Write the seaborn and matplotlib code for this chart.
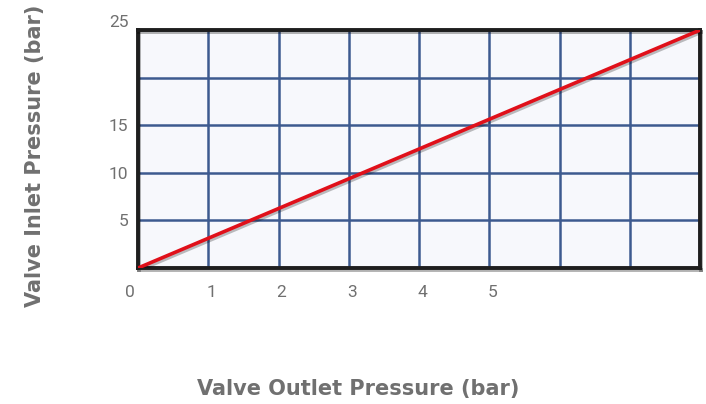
import seaborn as sns
import matplotlib.pyplot as plt
import matplotlib.patheffects as pe
import matplotlib.transforms as mtransforms
import pandas as pd

# valve pressure relation
outlet_bar = [0, 8]
inlet_bar = [0, 25]
x_ticks = [0, 1, 2, 3, 4, 5, 6, 7, 8]
x_labels = ['0', '1', '2', '3', '4', '5', '', '', '']
y_ticks = [0, 5, 10, 15, 20, 25]
y_labels = ['', '5', '10', '15', '', '25']

sns.set_style("white")
plt.rcParams['font.family'] = ['Roboto', 'DejaVu Sans']

df = pd.DataFrame({"outlet": outlet_bar, "inlet": inlet_bar})

fig = plt.figure(figsize=(7.06, 4.04), dpi=100)
ax = fig.add_axes([0.1955, 0.3366, 0.796, 0.589])
ax.set_facecolor("#f7f8fc")

sns.lineplot(data=df, x="outlet", y="inlet", ax=ax, color="#e0101a", linewidth=2.6,
             path_effects=[pe.SimpleLineShadow(offset=(1, -1.5), alpha=0.25), pe.Normal()],
             zorder=5)

ax.set_xlim(0, 8)
ax.set_ylim(0, 25)
ax.set_xticks(x_ticks, x_labels)
ax.set_yticks(y_ticks, y_labels)
ax.grid(True, color="#3d5a8f", linewidth=1.8)
ax.set_axisbelow(True)
ax.tick_params(length=0, labelsize=12.5, labelcolor="#707070")
ax.tick_params(axis='x', pad=12)
ax.tick_params(axis='y', pad=7)
for lbl in ax.get_yticklabels():
    if lbl.get_text() == '25':
        lbl.set_va('bottom')
for lbl in ax.get_xticklabels():
    dx = -8 if lbl.get_text() == '0' else 3
    lbl.set_transform(lbl.get_transform() + mtransforms.ScaledTranslation(dx / 100, 0, fig.dpi_scale_trans))

for s in ax.spines.values():
    s.set_color("#1e1e1e")
    s.set_linewidth(2.8)
    s.set_path_effects([pe.SimpleLineShadow(offset=(1, -1.5), alpha=0.3), pe.Normal()])

ax.set_xlabel("")
ax.set_ylabel("")
fig.text(0.508, 0.037, "Valve Outlet Pressure (bar)", ha="center", va="center",
         fontsize=15, fontweight="bold", color="#707070", family="DejaVu Sans")
fig.text(0.05, 0.615, "Valve Inlet Pressure (bar)", ha="center", va="center",
         rotation=90, fontsize=15, fontweight="bold", color="#707070", family="DejaVu Sans")

fig.savefig("out.png", dpi=100)
